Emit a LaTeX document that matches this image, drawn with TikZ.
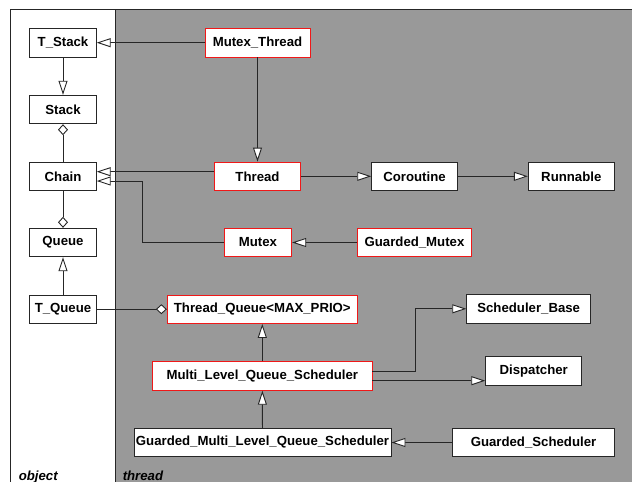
\documentclass[tikz,border=0pt]{standalone}
\usepackage{fontspec}
\setmainfont{Liberation Sans}
\usetikzlibrary{arrows.meta,calc}
\definecolor{ink}{HTML}{262626}
\definecolor{pkg}{HTML}{999999}
\definecolor{hot}{HTML}{F01818}

\begin{document}
\begin{tikzpicture}[x=1pt,y=-1pt,line width=.9pt,draw=ink,
  font=\bfseries\fontsize{13.2}{15}\selectfont,
  cls/.style={draw=ink,fill=white,minimum height=28.5pt,inner sep=0pt},
  act/.style={cls,draw=hot},
  inh/.style={-{Triangle[fill=white,length=14pt,width=9pt]}},
  agg/.style={{Diamond[fill=white,length=11pt,width=10pt]}-}]
  \useasboundingbox (0,0) rectangle (632,482);
  \clip (0,0) rectangle (632,482);

  % packages
  \fill[pkg] (115,9.5) rectangle (645,495);
  \draw (10.5,495) -- (10.5,9.5) -- (645,9.5);
  \draw (115,9.5) -- (115,495);
  \node[anchor=base west,font=\bfseries\itshape\fontsize{13.2}{15}\selectfont]
    (objlbl) at (15,480) {object};
  \node[anchor=base west,font=\bfseries\itshape\fontsize{13.2}{15}\selectfont]
    (thrlbl) at (119,480) {thread};

  % classes
  \foreach \name/\y/\txt in {
    tstack/42.7/T\_Stack,
    stack/109.5/Stack,
    chain/176.3/Chain,
    queue/242.5/Queue,
    tqueue/309.2/T\_Queue}
    {\node[cls,minimum width=66.5pt] (\name) at (63,\y) {\txt};}

  \node[act,minimum width=105pt] (mthread) at (257.5,42.7) {Mutex\_Thread};
  \node[act,minimum width=86.4pt] (thread) at (257.5,176.3) {Thread};
  \node[act,minimum width=67.4pt] (mutex) at (258,242.5) {Mutex};
  \node[cls,minimum width=85.6pt] (corout) at (414.5,176.3) {Coroutine};
  \node[cls,minimum width=86pt] (runnable) at (571.3,176.3) {Runnable};
  \node[act,minimum width=114.4pt] (gmutex) at (414.5,242.5) {Guarded\_Mutex};
  \node[act,minimum width=190pt] (tq) at (262.3,309.2) {Thread\_Queue<MAX\_PRIO>};
  \node[cls,minimum width=124pt] (sbase) at (528.7,308.8) {Scheduler\_Base};
  \node[act,minimum width=219.3pt] (mlqs) at (262.3,376) {Multi\_Level\_Queue\_Scheduler};
  \node[cls,minimum width=96pt] (disp) at (533.7,371) {Dispatcher};
  \node[cls,minimum width=257pt] (gmlqs) at (262.5,442.5)
    {Guarded\_Multi\_Level\_Queue\_Scheduler};
  \node[cls,minimum width=161.6pt] (gsched) at (533.5,442.5) {Guarded\_Scheduler};

  % relations
  \draw[inh] (tstack) -- (stack);
  \draw[agg] (stack) -- (chain);
  \draw[agg] (queue) -- (chain);
  \draw[inh] (tqueue) -- (queue);
  \draw[agg] (tq) -- (tqueue);
  \draw[inh] (mthread) -- (tstack);
  \draw[inh] (mthread) -- (thread);
  \draw[inh] ([yshift=4.6pt]thread.west) -- ([yshift=4.6pt]thread.west -| chain.east);
  \draw[inh] (mutex.west) -- ++(-81,0) |- ([yshift=-4.7pt]chain.east);
  \draw[inh] (thread) -- (corout);
  \draw[inh] (corout) -- (runnable);
  \draw[inh] (gmutex) -- (mutex);
  \draw[inh] (mlqs) -- (tq);
  \draw[inh] (gmlqs) -- (mlqs);
  \draw[inh] ([yshift=5pt]mlqs.east) -- ++(42.7,0) |- (sbase.west);
  \draw[inh] ([yshift=-4.7pt]mlqs.east) -- ([yshift=-4.7pt]mlqs.east -| disp.west);
  \draw[inh] (gsched) -- (gmlqs);
\end{tikzpicture}
\end{document}
